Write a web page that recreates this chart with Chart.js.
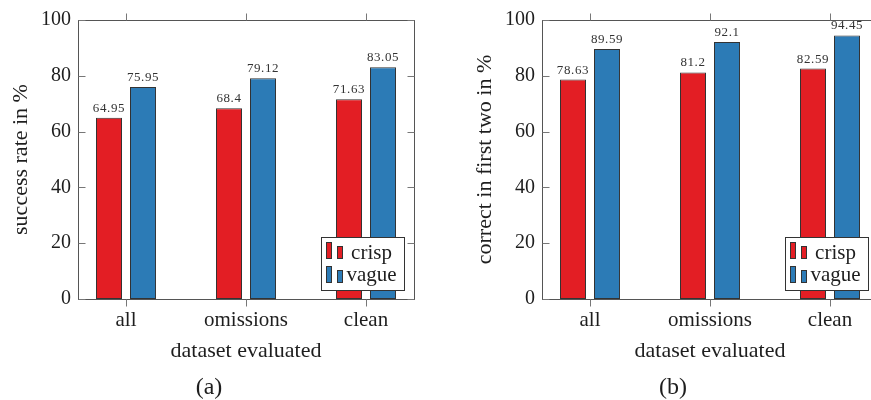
<!DOCTYPE html>
<html>
<head>
<meta charset="utf-8">
<script src="https://cdn.jsdelivr.net/npm/chart.js@4/dist/chart.umd.min.js"></script>
<style>
  html, body { margin: 0; padding: 0; background: #fff; overflow: hidden; }
  body { width: 871px; height: 400px; position: relative; }
  canvas { position: absolute; top: 0; }
  #chart-a { left: 0; }
  #chart-b { left: 436px; }
  .caption {
    position: absolute; top: 374px; width: 120px; text-align: center;
    font: 24px/24px "Liberation Serif", serif; color: #1e1e1e;
  }
</style>
</head>
<body>
<canvas id="chart-a" width="430" height="400"></canvas>
<canvas id="chart-b" width="450" height="400"></canvas>
<div class="caption" style="left:149px">(a)</div>
<div class="caption" style="left:613px">(b)</div>
<script>
const categories = ['all', 'omissions', 'clean'];
const seriesNames = ['crisp', 'vague'];
const successCrisp = [64.95, 68.4, 71.63];
const successVague = [75.95, 79.12, 83.05];
const firstTwoCrisp = [78.63, 81.2, 82.59];
const firstTwoVague = [89.59, 92.1, 94.45];

const RED = '#e31e24';
const BLUE = '#2c7bb6';
const EDGE = '#333';
const INK = '#1e1e1e';
const SERIF = '"Liberation Serif", serif';

// frame, ticks, value labels and the legend box
const framePlugin = {
  id: 'frame',
  afterDatasetsDraw(chart) {
    const { ctx, chartArea: a, scales: { x, y } } = chart;
    const left = Math.round(a.left) + 0.5;
    const right = Math.round(a.right) + 0.5;
    const top = Math.round(a.top) + 0.5;
    const bottom = Math.round(a.bottom) + 0.5;
    ctx.save();

    // values above each bar
    ctx.font = '13px ' + SERIF;
    ctx.letterSpacing = '0.6px';
    ctx.fillStyle = '#333';
    ctx.textAlign = 'center';
    ctx.textBaseline = 'alphabetic';
    chart.data.datasets.forEach((ds, i) => {
      chart.getDatasetMeta(i).data.forEach((bar, j) => {
        ctx.fillText(String(ds.data[j]), bar.x, bar.y - 6);
      });
    });
    ctx.letterSpacing = '0px';

    // axis box
    ctx.strokeStyle = '#555';
    ctx.lineWidth = 1;
    ctx.strokeRect(left, top, right - left, bottom - top);

    ctx.strokeStyle = '#777';
    ctx.beginPath();
    x.ticks.forEach((t, i) => {
      const px = Math.round(x.getPixelForTick(i)) + 0.5;
      ctx.moveTo(px, bottom); ctx.lineTo(px, bottom + 7);
      ctx.moveTo(px, top); ctx.lineTo(px, top - 7);
    });
    y.ticks.forEach(t => {
      const py = Math.round(y.getPixelForValue(t.value)) + 0.5;
      ctx.moveTo(left, py); ctx.lineTo(left + 7, py);
      ctx.moveTo(right, py); ctx.lineTo(right - 7, py);
    });
    ctx.stroke();

    // legend in the lower right corner
    const bw = 83, bh = 53;
    const bx = Math.round(a.right - 10 - bw) + 0.5;
    const by = Math.round(a.bottom - 9 - bh) + 0.5;
    ctx.fillStyle = '#fff';
    ctx.fillRect(bx, by, bw, bh);
    ctx.strokeStyle = '#333';
    ctx.strokeRect(bx, by, bw, bh);

    ctx.font = '21px ' + SERIF;
    ctx.textAlign = 'center';
    chart.data.datasets.forEach((ds, i) => {
      const base = by + 21 + i * 24;
      ctx.fillStyle = ds.backgroundColor;
      ctx.strokeStyle = EDGE;
      [[5, 16], [16, 12]].forEach(([dx, h]) => {
        ctx.fillRect(bx + dx, base - h, 5, h);
        ctx.strokeRect(bx + dx, base - h, 5, h);
      });
      ctx.fillStyle = INK;
      ctx.fillText(ds.label, bx + 50, base - i * 2);
    });
    ctx.restore();
  }
};

function makeChart(canvasId, crisp, vague, yTitle, axisWidth, titlePad, padRight) {
  const canvas = document.getElementById(canvasId);
  const barStyle = { borderColor: EDGE, borderWidth: 1, borderSkipped: false };
  return new Chart(canvas, {
    type: 'bar',
    data: {
      labels: categories,
      datasets: [
        { label: seriesNames[0], data: crisp, backgroundColor: RED, ...barStyle },
        { label: seriesNames[1], data: vague, backgroundColor: BLUE, ...barStyle }
      ]
    },
    options: {
      responsive: false,
      animation: false,
      categoryPercentage: 0.567,
      barPercentage: 0.765,
      layout: { padding: { top: 20, right: padRight, left: 0, bottom: 0 } },
      scales: {
        x: {
          grid: { display: false, drawTicks: false },
          border: { display: false },
          ticks: { color: INK, padding: 9, font: { family: SERIF, size: 21 } },
          title: {
            display: true, text: 'dataset evaluated', color: INK,
            font: { family: SERIF, size: 22 }, padding: { top: 0, bottom: 36 }
          },
          // categories sit 0.4 of a step in from the frame
          afterBuildTicks: scale => {
            scale._startValue = -0.4;
            scale._valueRange = categories.length - 0.2;
          },
          afterFit: scale => { scale.height = 101; }
        },
        y: {
          min: 0,
          max: 100,
          grid: { display: false, drawTicks: false },
          border: { display: false },
          ticks: { stepSize: 20, color: INK, padding: 7, font: { family: SERIF, size: 20 } },
          title: {
            display: true, text: yTitle, color: INK,
            font: { family: SERIF, size: 22 }, padding: { top: titlePad, bottom: 0 }
          },
          afterFit: scale => { scale.width = axisWidth; }
        }
      },
      plugins: {
        legend: { display: false },
        tooltip: { enabled: false }
      }
    },
    plugins: [framePlugin]
  });
}

document.addEventListener('DOMContentLoaded', function() {
  if (typeof Chart === 'undefined') {
    console.error('Chart.js is not loaded');
    return;
  }
  makeChart('chart-a', successCrisp, successVague, 'success rate in %', 78, 8, 16);
  makeChart('chart-b', firstTwoCrisp, firstTwoVague, 'correct in first two in %', 106, 36, 8);
});
</script>
</body>
</html>
